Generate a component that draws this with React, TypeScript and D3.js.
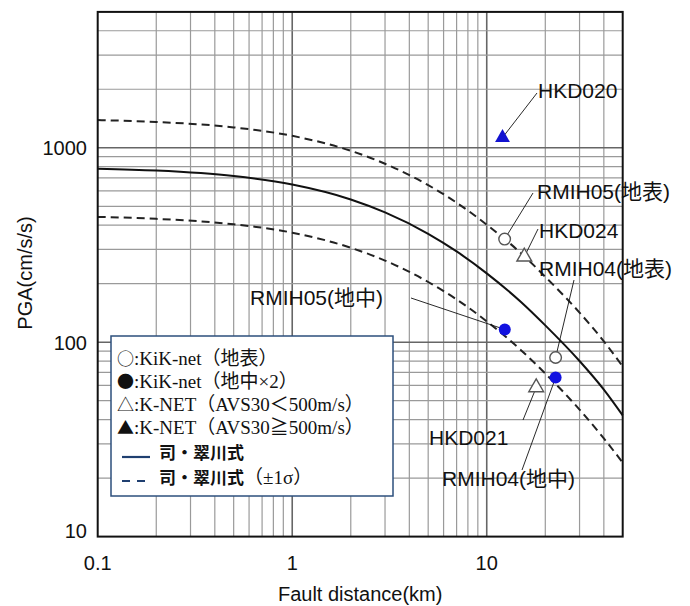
import React from 'react';
import * as d3 from 'd3';

// attenuation curves (km, cm/s/s)
const distances = [0.1, 0.2, 0.5, 1, 2, 3, 5, 7, 10, 15, 20, 30, 40, 50];
const median = [780, 763, 715, 647, 542, 465, 361, 293, 226, 161, 122, 80, 57, 42];
const upper = [1388, 1358, 1273, 1152, 965, 828, 643, 522, 402, 287, 217, 142, 101, 75];
const lower = [441, 431, 404, 366, 306, 263, 204, 166, 128, 91, 69, 45, 32, 24];

// observed stations
const stationNames = ['HKD020', 'RMIH05(地表)', 'HKD024', 'RMIH04(地表)', 'RMIH05(地中)', 'HKD021', 'RMIH04(地中)'];
const stationDist = [12.05, 12.36, 15.6, 22.6, 12.38, 17.96, 22.6];
const stationPga = [1128, 339, 275, 83.4, 116.3, 58.5, 65.8];
const stationType = ['knetHard', 'kikSurface', 'knetSoft', 'kikSurface', 'kikBorehole', 'knetSoft', 'kikBorehole'];

const xTicks = [0.1, 1, 10];
const yTicks = [10, 100, 1000];

const legendRows = [
  { sym: '○', text: ':KiK-net（地表）' },
  { sym: '●', text: ':KiK-net（地中×2）' },
  { sym: '△', text: ':K-NET（AVS30＜500m/s）' },
  { sym: '▲', text: ':K-NET（AVS30≧500m/s）' },
];

// where each label sits and where its leader line starts
const labelPos = [
  { x: 538, y: 90, lx: 537, ly: 93 },
  { x: 537, y: 191, lx: 533, ly: 193 },
  { x: 539, y: 230, lx: 538, ly: 229 },
  { x: 539, y: 268, lx: 574, ly: 280 },
  { x: 250, y: 297, lx: 411, ly: 298 },
  { x: 429, y: 437, lx: 523, ly: 420 },
  { x: 442, y: 478, lx: 522, ly: 470 },
];

const W = 690;
const H = 606;
const left = 97.7, right = 622.7, top = 11.9, bottom = 536.6;
const sans = '"Liberation Sans", Arial, "Noto Sans CJK JP", sans-serif';
const serif = '"Liberation Serif", "Times New Roman", "Noto Sans CJK JP", serif';
const cjk = '"Noto Sans CJK JP", sans-serif';

export default function App() {
  const x = d3.scaleLog().domain([0.1, 50]).range([left, right]);
  const y = d3.scaleLog().domain([10, 5000]).range([bottom, top]);

  const gridX = [];
  for (const dec of [0.1, 1, 10]) for (let k = 1; k <= 9; k++) {
    const v = dec * k;
    if (v > 0.1 && v < 50) gridX.push(v);
  }
  const gridY = [];
  for (const dec of [10, 100, 1000]) for (let k = 1; k <= 9; k++) {
    const v = dec * k;
    if (v > 10 && v < 5000) gridY.push(v);
  }
  const isMajor = (v) => Math.abs(Math.log10(v) - Math.round(Math.log10(v))) < 1e-6;

  const line = d3.line().x((d) => x(d[0])).y((d) => y(d[1])).curve(d3.curveMonotoneX);
  const pts = (vals) => distances.map((d, i) => [d, vals[i]]);

  const triangle = d3.symbol().type(d3.symbolTriangle).size(95)();

  const marker = (t, cx, cy, key) => {
    if (t === 'kikSurface')
      return <circle key={key} cx={cx} cy={cy} r={5.8} fill="#fff" stroke="#555" strokeWidth={1.4} />;
    if (t === 'kikBorehole')
      return <circle key={key} cx={cx} cy={cy} r={6} fill="#1212e0" />;
    if (t === 'knetSoft')
      return <path key={key} d={triangle} transform={`translate(${cx},${cy})`} fill="#fff" stroke="#555" strokeWidth={1.4} />;
    return <path key={key} d={triangle} transform={`translate(${cx},${cy})`} fill="#1212d0" />;
  };

  return (
    <svg width={W} height={H} style={{ position: 'absolute', left: 0, top: 0, background: '#fff' }}>
      <rect x={0} y={0} width={W} height={H} fill="#fff" />
      {/* grid */}
      {gridX.map((v) => (
        <line key={'gx' + v} x1={x(v)} x2={x(v)} y1={top} y2={bottom}
          stroke={isMajor(v) ? '#666' : '#9a9a9a'} strokeWidth={isMajor(v) ? 1.6 : 1.2} />
      ))}
      {gridY.map((v) => (
        <line key={'gy' + v} x1={left} x2={right} y1={y(v)} y2={y(v)}
          stroke={isMajor(v) ? '#666' : '#9a9a9a'} strokeWidth={isMajor(v) ? 1.6 : 1.2} />
      ))}

      {/* curves */}
      <path d={line(pts(upper))} fill="none" stroke="#222" strokeWidth={2} strokeDasharray="8,5" />
      <path d={line(pts(lower))} fill="none" stroke="#222" strokeWidth={2} strokeDasharray="8,5" />
      <path d={line(pts(median))} fill="none" stroke="#111" strokeWidth={2} />

      {/* leader lines and labels */}
      {stationNames.map((n, i) => (
        <line key={'ll' + i} x1={labelPos[i].lx} y1={labelPos[i].ly}
          x2={x(stationDist[i])} y2={y(stationPga[i])} stroke="#111" strokeWidth={0.9} />
      ))}
      {stationNames.map((n, i) => marker(stationType[i], x(stationDist[i]), y(stationPga[i]), 'm' + i))}
      {stationNames.map((n, i) => (
        <text key={'lb' + i} x={labelPos[i].x} y={labelPos[i].y + 7.5} fontFamily={sans} fontSize={21} fill="#111">{n}</text>
      ))}

      {/* legend */}
      <rect x={111} y={336} width={282} height={160} fill="#fff" stroke="#2c4f7c" strokeWidth={1.5} />
      {legendRows.map((r, i) => (
        <text key={'lg' + i} x={117} y={358 + i * 23 + 7} fill="#111">
          <tspan fontFamily={cjk} fontSize={17}>{r.sym}</tspan>
          <tspan fontFamily={serif} fontSize={19}>{r.text}</tspan>
        </text>
      ))}
      <line x1={122} x2={150} y1={457} y2={457} stroke="#1f3f70" strokeWidth={2.2} />
      <text x={159} y={452 + 7} fontFamily={cjk} fontWeight={700} fontSize={17} fill="#111">司・翠川式</text>
      <line x1={122} x2={150} y1={481} y2={481} stroke="#1f3f70" strokeWidth={2} strokeDasharray="8,7" />
      <text x={159} y={477 + 7} fontFamily={cjk} fontWeight={700} fontSize={17} fill="#111">
        司・翠川式<tspan fontFamily={serif} fontWeight={400} fontSize={19}>（±1σ）</tspan>
      </text>

      {/* frame */}
      <rect x={left} y={top} width={right - left} height={bottom - top} fill="none" stroke="#111" strokeWidth={2} />

      {/* ticks */}
      {xTicks.map((v) => (
        <text key={'xt' + v} x={x(v)} y={570} textAnchor="middle" fontFamily={sans} fontSize={20} fill="#111">{v}</text>
      ))}
      {yTicks.map((v) => (
        <text key={'yt' + v} x={87} y={Math.min(y(v), 530) + 7.5} textAnchor="end" fontFamily={sans} fontSize={20} fill="#111">{v}</text>
      ))}
      <text x={(left + right) / 2} y={601} textAnchor="middle" fontFamily={sans} fontSize={20} fill="#111">Fault distance(km)</text>
      <text transform={`translate(32,273) rotate(-90)`} textAnchor="middle" fontFamily={sans} fontSize={20} fill="#111">PGA(cm/s/s)</text>
    </svg>
  );
}
